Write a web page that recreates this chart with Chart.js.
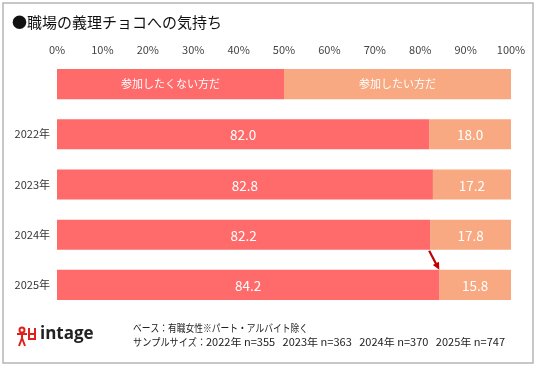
<!DOCTYPE html>
<html><head><meta charset="utf-8">
<script src="https://cdn.jsdelivr.net/npm/chart.js@4.4.0/dist/chart.umd.min.js"></script>
<style>html,body{margin:0;padding:0;background:#fff}#wrap{width:536px;height:368px;position:relative}</style>
</head><body><div id="wrap"><canvas id="c" width="536" height="368"></canvas></div>
<script>
const categories = ["", "2022年", "2023年", "2024年", "2025年"];
const seriesNames = ["参加したくない方だ", "参加したい方だ"];
const notWant = [50, 82.0, 82.8, 82.2, 84.2];
const want = [50, 18.0, 17.2, 17.8, 15.8];
const tickValues = [0,10,20,30,40,50,60,70,80,90,100];
const titleText = "●職場の義理チョコへの気持ち";
const noteBase = "ベース：有職女性※パート・アルバイト除く";
const sampleLabel = "サンプルサイズ：";
const sampleText = "2022年 n=355   2023年 n=363   2024年 n=370   2025年 n=747";

const FONT = '"Noto Sans CJK JP","Noto Sans",sans-serif';
const RED = '#FF6B6B', ORANGE = '#F8A982';

function fitText(ctx, text, x, y, w) {
  const m = ctx.measureText(text).width;
  ctx.save(); ctx.translate(x, y); ctx.scale(w / m, 1); ctx.fillText(text, 0, 0); ctx.restore();
}

const extras = {
  id: 'extras',
  afterDatasetsDraw(chart) {
    const ctx = chart.ctx, xs = chart.scales.x;
    ctx.save();
    ctx.textAlign = 'center'; ctx.textBaseline = 'middle'; ctx.fillStyle = '#fff';
    chart.data.datasets.forEach((ds, di) => {
      const meta = chart.getDatasetMeta(di);
      meta.data.forEach((bar, i) => {
        const start = di === 0 ? 0 : notWant[i];
        const cx = xs.getPixelForValue(start + ds.data[i] / 2);
        if (i === 0) { ctx.font = '11px ' + FONT; ctx.fillText(ds.label, cx, bar.y); }
        else { ctx.font = '13.5px ' + FONT; ctx.fillText(ds.data[i].toFixed(1), cx, bar.y + 1); }
      });
    });
    const b3 = chart.getDatasetMeta(0).data[3], b4 = chart.getDatasetMeta(0).data[4];
    const x1 = xs.getPixelForValue(notWant[3]) - 1, y1 = b3.y + b3.height / 2 + 1;
    const x2 = xs.getPixelForValue(notWant[4]), y2 = b4.y - b4.height / 2;
    ctx.strokeStyle = '#C00000'; ctx.fillStyle = '#C00000'; ctx.lineWidth = 2.2;
    const ang = Math.atan2(y2 - y1, x2 - x1);
    ctx.beginPath(); ctx.moveTo(x1, y1); ctx.lineTo(x2 - 5 * Math.cos(ang), y2 - 5 * Math.sin(ang)); ctx.stroke();
    ctx.beginPath(); ctx.moveTo(x2, y2);
    ctx.lineTo(x2 - 8 * Math.cos(ang - 0.45), y2 - 8 * Math.sin(ang - 0.45));
    ctx.lineTo(x2 - 8 * Math.cos(ang + 0.45), y2 - 8 * Math.sin(ang + 0.45));
    ctx.closePath(); ctx.fill();
    ctx.restore();
  },
  afterDraw(chart) {
    const ctx = chart.ctx;
    ctx.save();
    ctx.strokeStyle = '#b5b5b5'; ctx.lineWidth = 1.5;
    ctx.strokeRect(3, 3, 530, 360);
    ctx.fillStyle = '#111'; ctx.textAlign = 'left'; ctx.textBaseline = 'middle';
    ctx.font = '15px ' + FONT; ctx.fillText(titleText, 12, 22);
    ctx.font = '10.5px ' + FONT; ctx.fillStyle = '#222';
    fitText(ctx, noteBase, 133, 328, 175);
    fitText(ctx, sampleLabel, 133, 342, 73);
    fitText(ctx, sampleText, 206, 342, 299);
    ctx.strokeStyle = '#E0201B'; ctx.fillStyle = '#E0201B'; ctx.lineWidth = 2;
    ctx.beginPath();
    ctx.arc(22, 330, 2.5, 0, Math.PI * 2); ctx.stroke();
    ctx.beginPath();
    ctx.moveTo(17, 334); ctx.lineTo(27, 334);
    ctx.moveTo(22, 333); ctx.lineTo(22, 338);
    ctx.moveTo(22, 338); ctx.lineTo(19, 346);
    ctx.moveTo(22, 338); ctx.lineTo(25, 346);
    ctx.moveTo(29, 328); ctx.lineTo(29, 340);
    ctx.moveTo(35, 328); ctx.lineTo(35, 340);
    ctx.moveTo(29, 334); ctx.lineTo(35, 334);
    ctx.moveTo(29, 339); ctx.lineTo(35, 339);
    ctx.stroke();
    ctx.fillStyle = '#222'; ctx.font = 'bold 17px "Open Sans",sans-serif'; ctx.textBaseline = 'alphabetic';
    ctx.fillText('intage', 40, 339);
    ctx.restore();
  }
};

new Chart(document.getElementById('c'), {
  type: 'bar',
  data: {
    labels: categories,
    datasets: [
      { label: seriesNames[0], data: notWant, backgroundColor: RED, barPercentage: 0.6, categoryPercentage: 1 },
      { label: seriesNames[1], data: want, backgroundColor: ORANGE, barPercentage: 0.6, categoryPercentage: 1 }
    ]
  },
  options: {
    indexAxis: 'y', responsive: false, animation: false,
    layout: { padding: { left: 7, right: 25, top: 37, bottom: 58 } },
    plugins: { legend: { display: false }, tooltip: { enabled: false } },
    scales: {
      x: {
        stacked: true, min: 0, max: 100, position: 'top',
        afterBuildTicks(s) { s.ticks = tickValues.map(v => ({ value: v })); },
        afterFit(s) { s.height = 22; },
        grid: { display: false, drawTicks: false }, border: { display: false },
        ticks: { padding: 3, color: '#444', font: { size: 11, family: FONT }, callback: v => v + '%', maxRotation: 0, autoSkip: false }
      },
      y: {
        stacked: true,
        afterFit(s) { s.width = 50; },
        grid: { display: false, drawTicks: false }, border: { display: false },
        ticks: { padding: 7, color: '#333', font: { size: 11, family: FONT } }
      }
    }
  },
  plugins: [extras]
});
</script></body></html>
